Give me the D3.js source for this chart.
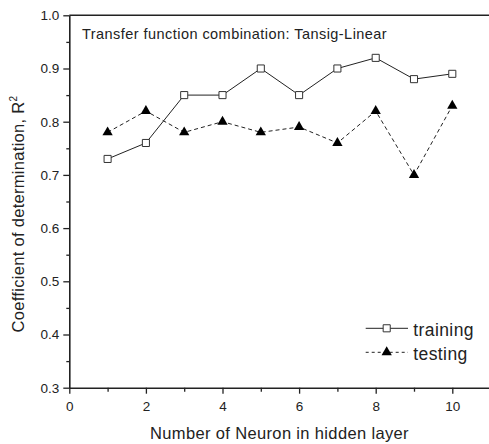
<!DOCTYPE html>
<html>
<head>
<meta charset="utf-8">
<script src="https://cdn.jsdelivr.net/npm/d3@7"></script>
<style>
  body { margin: 0; background: #fff; }
  svg { display: block; font-family: "Liberation Sans", Arial, sans-serif; }
  .axis text { font-size: 13.5px; fill: #222; }
</style>
</head>
<body>
<div id="chart"></div>
<script>
// data
var neurons = [1, 2, 3, 4, 5, 6, 7, 8, 9, 10];
var training = [0.73, 0.76, 0.85, 0.85, 0.90, 0.85, 0.90, 0.92, 0.88, 0.89];
var testing = [0.78, 0.82, 0.78, 0.80, 0.78, 0.79, 0.76, 0.82, 0.70, 0.83];
var xTicks = [0, 2, 4, 6, 8, 10];
var yTicks = [0.3, 0.4, 0.5, 0.6, 0.7, 0.8, 0.9, 1.0];

var W = 489, H = 444;
var margin = { top: 15.3, left: 69.3, bottom: 56.3 };
var ink = "#222";

var svg = d3.select("#chart").append("svg")
  .attr("width", W)
  .attr("height", H);

var x = d3.scaleLinear().domain([0, 11]).range([margin.left, 490.6]);
var y = d3.scaleLinear().domain([0.3, 1.0]).range([H - margin.bottom, margin.top]);

// minor ticks
svg.append("g")
  .attr("transform", "translate(0," + y(0.3) + ")")
  .call(d3.axisBottom(x).tickValues([1, 3, 5, 7, 9]).tickSize(4).tickFormat(""))
  .call(g => g.select(".domain").remove())
  .selectAll("line").attr("stroke", ink).attr("stroke-width", 1.3);

svg.append("g")
  .attr("transform", "translate(" + x(0) + ",0)")
  .call(d3.axisLeft(y).tickValues(yTicks.slice(0, -1).map(d => d + 0.05)).tickSize(3).tickFormat(""))
  .call(g => g.select(".domain").remove())
  .selectAll("line").attr("stroke", ink).attr("stroke-width", 1.3);

// major axes
var xAxis = svg.append("g")
  .attr("class", "axis")
  .attr("transform", "translate(0," + y(0.3) + ")")
  .call(d3.axisBottom(x).tickValues(xTicks).tickSize(6).tickSizeOuter(0).tickPadding(7.5).tickFormat(d3.format("d")));

var yAxis = svg.append("g")
  .attr("class", "axis")
  .attr("transform", "translate(" + x(0) + ",0)")
  .call(d3.axisLeft(y).tickValues(yTicks).tickSize(6).tickSizeOuter(0).tickPadding(4).tickFormat(d3.format(".1f")));

svg.selectAll(".axis .domain").attr("stroke", ink).attr("stroke-width", 1.6);
svg.selectAll(".axis .tick line").attr("stroke", ink).attr("stroke-width", 1.3);

// top frame line
svg.append("line")
  .attr("x1", x(0)).attr("x2", x(11))
  .attr("y1", y(1.0)).attr("y2", y(1.0))
  .attr("stroke", ink).attr("stroke-width", 1.6);

// lines
var lineGen = d3.line().x(d => x(d[0])).y(d => y(d[1]));

svg.append("path")
  .datum(neurons.map((n, i) => [n, testing[i]]))
  .attr("d", lineGen)
  .attr("fill", "none")
  .attr("stroke", ink)
  .attr("stroke-width", 1)
  .attr("stroke-dasharray", "4,3");

svg.append("path")
  .datum(neurons.map((n, i) => [n, training[i]]))
  .attr("d", lineGen)
  .attr("fill", "none")
  .attr("stroke", ink)
  .attr("stroke-width", 1);

var tri = d3.symbol(d3.symbolTriangle, 46);
var sq = d3.symbol(d3.symbolSquare, 50);

svg.selectAll(".tri")
  .data(testing)
  .enter().append("path")
  .attr("class", "tri")
  .attr("d", tri)
  .attr("transform", (d, i) => "translate(" + x(neurons[i]) + "," + y(d) + ")")
  .attr("fill", "#000");

svg.selectAll(".sq")
  .data(training)
  .enter().append("path")
  .attr("class", "sq")
  .attr("d", sq)
  .attr("transform", (d, i) => "translate(" + x(neurons[i]) + "," + y(d) + ")")
  .attr("fill", "#fff")
  .attr("stroke", "#333")
  .attr("stroke-width", 1);

// in-plot title
svg.append("text")
  .attr("x", 82)
  .attr("y", 39)
  .attr("font-size", 14.5)
  .attr("letter-spacing", 0.45)
  .attr("fill", ink)
  .text("Transfer function combination: Tansig-Linear");

// axis titles
svg.append("text")
  .attr("x", 279.5)
  .attr("y", 439)
  .attr("text-anchor", "middle")
  .attr("font-size", 16.5)
  .attr("letter-spacing", 0.35)
  .attr("fill", ink)
  .text("Number of Neuron in hidden layer");

var yt = svg.append("text")
  .attr("transform", "translate(24,214) rotate(-90)")
  .attr("text-anchor", "middle")
  .attr("font-size", 16.5)
  .attr("letter-spacing", 0.3)
  .attr("fill", ink);
yt.append("tspan").text("Coefficient of determination, R");
yt.append("tspan").attr("font-size", 10).attr("dy", -7).text("2");

// legend
var legend = [
  { name: "training", y: 328.3, dash: null, sym: sq, fill: "#fff" },
  { name: "testing", y: 352.3, dash: "3,3", sym: tri, fill: "#000" }
];
var lg = svg.selectAll(".leg").data(legend).enter().append("g").attr("class", "leg");
lg.append("line")
  .attr("x1", 365.7).attr("x2", 408)
  .attr("y1", d => d.y).attr("y2", d => d.y)
  .attr("stroke", ink).attr("stroke-width", 1)
  .attr("stroke-dasharray", d => d.dash);
lg.append("path")
  .attr("d", d => d.sym())
  .attr("transform", d => "translate(386.7," + d.y + ")")
  .attr("fill", d => d.fill)
  .attr("stroke", d => d.name === "training" ? "#333" : null);
lg.append("text")
  .attr("x", 413.3)
  .attr("y", d => d.y + 7.5)
  .attr("font-size", 17.5)
  .attr("letter-spacing", 0.4)
  .attr("fill", ink)
  .text(d => d.name);
</script>
</body>
</html>
